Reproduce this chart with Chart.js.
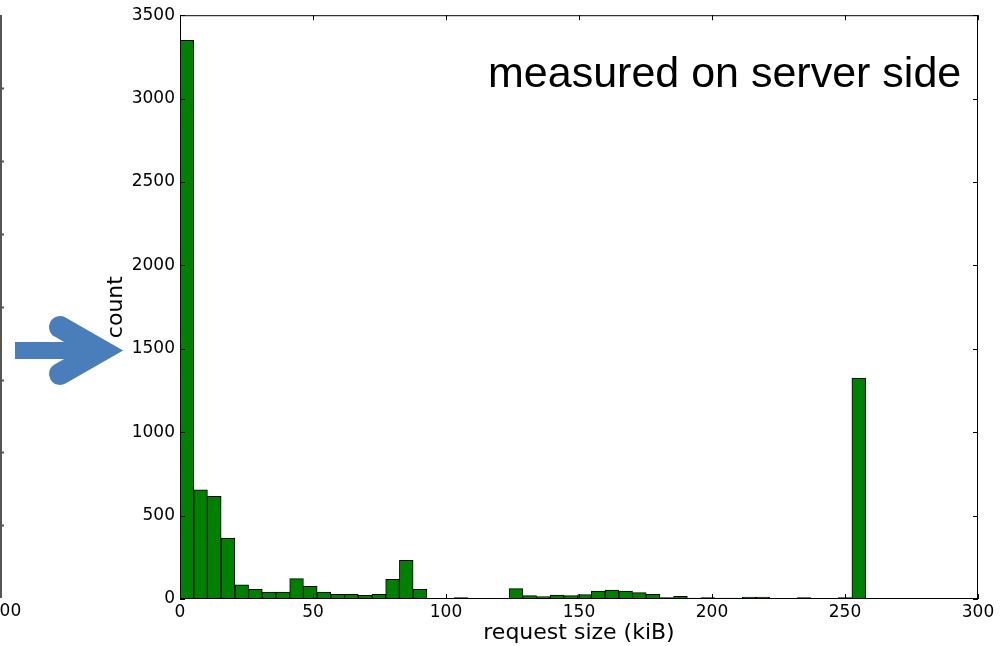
<!DOCTYPE html>
<html>
<head>
<meta charset="utf-8">
<script src="https://cdn.jsdelivr.net/npm/chart.js@4.4.1/dist/chart.umd.min.js"></script>
<style>
  html, body { margin: 0; padding: 0; background: #fff; }
  canvas { display: block; }
</style>
</head>
<body>
<canvas id="hist" width="1000" height="646"></canvas>
<script>
// Histograma de tamaños de petición (50 bins)
const binWidth = 5.155; // kiB por bin
const counts = [
  3350, 655, 615, 365, 85, 58, 42, 42, 122, 76,
  42, 28, 28, 22, 28, 118, 232, 58, 2, 3,
  9, 3, 2, 2, 62, 20, 14, 24, 20, 26,
  48, 54, 48, 38, 28, 8, 16, 5, 8, 6,
  6, 12, 12, 3, 2, 8, 2, 1, 8, 1325
];
const xTicks = [0, 50, 100, 150, 200, 250, 300];
const yTicks = [0, 500, 1000, 1500, 2000, 2500, 3000, 3500];
const xLabel = 'request size (kiB)';
const yLabel = 'count';
const note = 'measured on server side';

const tickFont = { family: 'DejaVu Sans', size: 17 };
const labelFont = { family: 'DejaVu Sans', size: 22 };

// Marco, ticks hacia dentro, anotaciones
const decor = {
  id: 'decor',
  afterDraw(chart){
    const { ctx, chartArea: a, scales } = chart;
    ctx.save();
    // marco
    ctx.strokeStyle = '#000';
    ctx.lineWidth = 1;
    ctx.strokeRect(a.left + 0.5, a.top + 0.5, a.right - a.left - 1, a.bottom - a.top - 1);
    // ticks interiores
    const tl = 5;
    ctx.beginPath();
    xTicks.forEach(v=>{
      const x = Math.round(scales.x.getPixelForValue(v)) + 0.5;
      ctx.moveTo(x, a.bottom); ctx.lineTo(x, a.bottom - tl);
      ctx.moveTo(x, a.top); ctx.lineTo(x, a.top + tl);
    });
    yTicks.forEach(v=>{
      const y = Math.round(scales.y.getPixelForValue(v)) + 0.5;
      ctx.moveTo(a.left, y); ctx.lineTo(a.left + tl, y);
      ctx.moveTo(a.right, y); ctx.lineTo(a.right - tl, y);
    });
    ctx.stroke();

    // texto
    ctx.fillStyle = '#000';
    ctx.font = '43px "Liberation Sans", Arial, sans-serif';
    ctx.textAlign = 'left';
    ctx.textBaseline = 'alphabetic';
    ctx.fillText(note, 488, 87);

    // eje del gráfico vecino (recortado)
    ctx.strokeStyle = '#555';
    ctx.lineWidth = 2;
    ctx.beginPath();
    ctx.moveTo(1, 15); ctx.lineTo(1, 598);
    for(let k = 1; k < 8; k++){
      const y = Math.round(15 + k * 72.9) + 0.5;
      ctx.moveTo(1, y); ctx.lineTo(4, y);
    }
    ctx.stroke();
    ctx.font = '17px "DejaVu Sans"';
    ctx.textAlign = 'center';
    ctx.textBaseline = 'middle';
    ctx.fillText('300', 5, 612);

    // flecha azul
    ctx.fillStyle = '#4a7ebb';
    ctx.strokeStyle = '#4a7ebb';
    ctx.fillRect(15, 342, 82, 17);
    ctx.lineWidth = 22;
    ctx.lineCap = 'round';
    ctx.lineJoin = 'miter';
    ctx.beginPath();
    ctx.moveTo(60, 327);
    ctx.lineTo(101, 350.5);
    ctx.lineTo(60, 374);
    ctx.stroke();
    ctx.restore();
  }
};

const ctx = document.getElementById('hist').getContext('2d');
new Chart(ctx, {
  type: 'bar',
  data: {
    datasets: [{
      data: counts.map((c, i) => ({ x: (i + 0.5) * binWidth, y: c })),
      backgroundColor: '#008000',
      borderColor: '#000',
      borderWidth: 1,
      borderSkipped: false,
      barPercentage: 1,
      categoryPercentage: 1
    }]
  },
  options: {
    responsive: false,
    animation: false,
    layout: { padding: { top: 13, right: 22, left: 0, bottom: 0 } },
    plugins: { legend: { display: false }, tooltip: { enabled: false } },
    scales: {
      x: {
        type: 'linear', min: 0, max: 300, offset: false,
        afterBuildTicks: s => { s.ticks = xTicks.map(v => ({ value: v })); },
        ticks: { font: tickFont, color: '#000', padding: 3, maxRotation: 0, autoSkip: false, callback: v => String(v) },
        grid: { display: false, drawTicks: false, offset: false },
        border: { display: false },
        title: { display: true, text: xLabel, font: labelFont, color: '#000', padding: 0 },
        afterFit: s => { s.height = 47; }
      },
      y: {
        min: 0, max: 3500,
        afterBuildTicks: s => { s.ticks = yTicks.map(v => ({ value: v })); },
        ticks: { font: tickFont, color: '#000', padding: 5, callback: v => String(v) },
        grid: { display: false, drawTicks: false },
        border: { display: false },
        title: { display: true, text: yLabel, font: labelFont, color: '#000', padding: { top: 103, bottom: 0 } },
        afterFit: s => { s.width = 180; }
      }
    }
  },
  plugins: [decor]
});
</script>
</body>
</html>
